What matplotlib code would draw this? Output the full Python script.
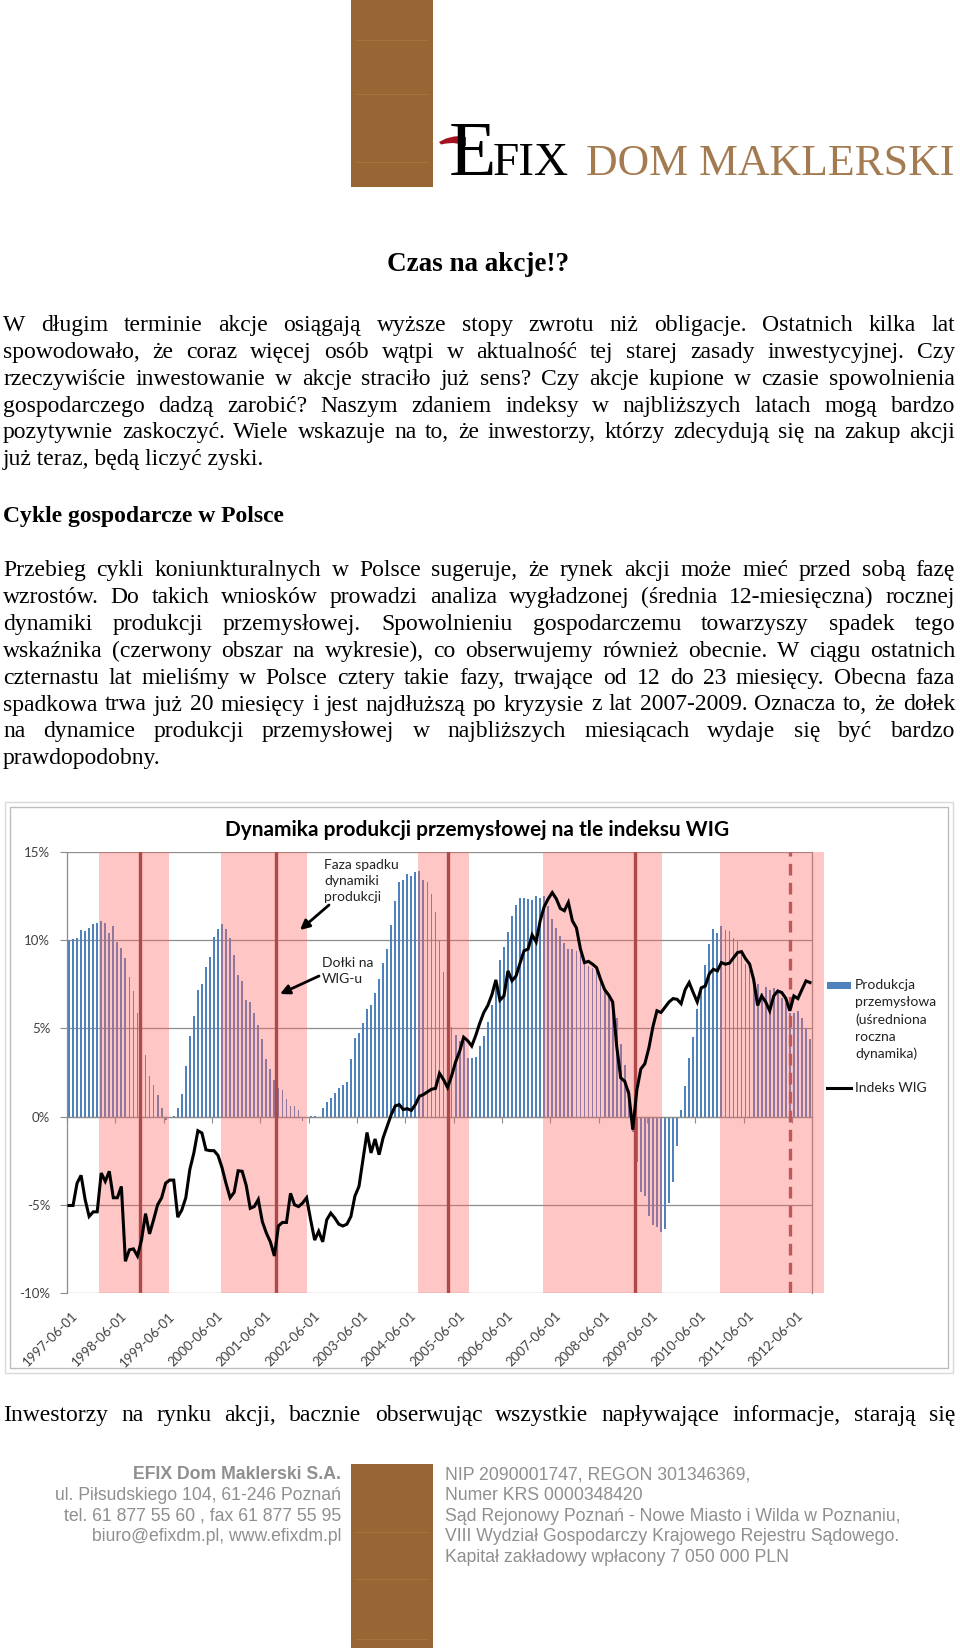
#!/usr/bin/env python3
import numpy as np
import matplotlib
matplotlib.use('Agg')
import matplotlib.pyplot as plt
import matplotlib.patches as mpatches
import matplotlib.transforms as mtransforms

# dane, indeks miesiaca 0 = 1997-06
produkcja = [10.0, 10.05, 10.1, 10.6, 10.5, 10.7, 10.9, 11.0, 11.1, 11.0,
             10.4, 10.8, 9.9, 9.55, 9.0, 7.9, 7.1, 5.9, 4.6, 3.5,
             2.3, 1.8, 1.2, 0.5, -0.2, -0.05, 0.05, 0.5, 1.3, 2.85,
             4.55, 5.7, 7.2, 7.5, 8.5, 9.05, 10.2, 10.65, 10.9, 10.65,
             10.1, 9.15, 8.0, 7.7, 6.6, 6.5, 5.9, 5.2, 4.4, 3.25,
             2.7, 2.1, 1.6, 1.5, 1.0, 0.6, 0.6, 0.35, -0.25, -0.1,
             0.02, 0.05, -0.02, 0.5, 0.8, 1.05, 1.35, 1.6, 1.8, 1.95,
             3.25, 4.45, 4.75, 5.3, 6.1, 6.35, 7.0, 7.8, 8.7, 9.5,
             10.85, 12.2, 13.3, 13.4, 13.75, 13.65, 13.85, 13.9, 13.4, 13.3,
             12.6, 11.6, 10.0, 8.2, 6.6, 5.1, 4.6, 4.3, 4.3, 3.3,
             3.3, 3.4, 4.0, 4.55, 5.35, 6.3, 7.6, 8.9, 9.6, 10.45,
             11.4, 12.0, 12.4, 12.4, 12.35, 12.3, 12.5, 12.4, 12.5, 11.95,
             11.2, 10.7, 10.25, 9.85, 9.5, 9.5, 9.4, 9.2, 8.9, 8.55,
             8.45, 8.35, 8.0, 7.3, 6.85, 6.5, 5.6, 4.1, 2.9, 1.5,
             -0.9, -2.6, -4.25, -4.5, -5.65, -6.15, -6.25, -6.55, -6.4, -4.9,
             -3.7, -1.65, 0.4, 1.75, 3.3, 4.5, 6.1, 7.2, 8.6, 9.8,
             10.65, 10.4, 10.8, 10.6, 10.5, 10.15, 9.95, 9.2, 8.65, 8.3,
             7.7, 7.5, 7.0, 7.35, 7.2, 7.3, 7.0, 6.75, 6.45, 5.9,
             5.9, 6.0, 5.6, 4.95, 4.4]

# indeks WIG w skali wykresu
wig = [-5.04, -5.04, -3.77, -3.33, -4.7, -5.66, -5.4, -5.4, -3.2, -3.67,
       -3.1, -4.6, -4.6, -3.96, -8.2, -7.55, -7.5, -7.9, -7.0, -5.5,
       -6.65, -5.85, -5.0, -4.6, -3.77, -3.6, -3.6, -5.7, -5.3, -4.6,
       -3.0, -2.06, -0.8, -0.93, -1.88, -1.93, -1.93, -2.2, -2.9, -3.8,
       -4.6, -4.3, -3.07, -3.1, -3.9, -5.2, -5.1, -4.7, -5.95, -6.6,
       -7.1, -7.9, -6.2, -6.0, -6.0, -4.35, -5.0, -5.1, -4.9, -4.6,
       -5.85, -7.0, -6.5, -7.1, -5.85, -5.47, -5.75, -6.1, -6.2, -6.1,
       -5.66, -4.5, -3.96, -2.44, -0.9, -2.06, -1.27, -2.16, -1.2, -0.55,
       0.1, 0.6, 0.68, 0.4, 0.45, 0.35, 0.68, 1.15, 1.25, 1.4,
       1.55, 1.6, 2.45, 2.1, 1.65, 2.3, 3.1, 3.7, 4.5, 4.3,
       4.0, 4.6, 5.3, 5.9, 6.3, 6.9, 7.75, 6.6, 6.84, 8.26,
       7.7, 7.97, 8.7, 9.4, 9.5, 10.3, 9.9, 11.1, 11.9, 12.35,
       12.7, 12.35, 11.8, 11.67, 12.14, 11.1, 10.7, 9.5, 8.73, 8.8,
       8.64, 8.45, 7.78, 7.2, 6.9, 6.5, 4.0, 2.2, 2.0, 1.3,
       -0.74, 1.5, 2.7, 3.0, 3.9, 5.1, 6.0, 5.9, 6.2, 6.5,
       6.69, 6.65, 6.4, 7.2, 7.6, 7.03, 6.5, 7.3, 7.4, 8.1,
       8.35, 8.26, 8.73, 8.64, 8.7, 9.0, 9.3, 9.35, 8.95, 8.65,
       7.78, 6.3, 6.84, 6.5, 6.0, 6.84, 7.12, 7.03, 6.7, 6.0,
       6.84, 6.69, 7.2, 7.69, 7.6]

faza_start = [7.95, 38.3, 87.2, 118.3, 162.2]
faza_end = [25.3, 59.6, 99.9, 147.8, 188.0]
dolki_wig = [18.1, 51.9, 94.7, 141.1]
dolek_oczekiwany = 179.6

tick_months = [0, 12, 24, 36, 48, 60, 72, 84, 96, 108, 120, 132, 144, 156, 168, 180]
tick_labels = ['1997-06-01', '1998-06-01', '1999-06-01', '2000-06-01', '2001-06-01',
               '2002-06-01', '2003-06-01', '2004-06-01', '2005-06-01', '2006-06-01',
               '2007-06-01', '2008-06-01', '2009-06-01', '2010-06-01', '2011-06-01',
               '2012-06-01']
y_ticks = [-10, -5, 0, 5, 10, 15]
y_labels = ['-10%', '-5%', '0%', '5%', '10%', '15%']

para1 = ['W długim terminie akcje osiągają wyższe stopy zwrotu niż obligacje. Ostatnich kilka lat',
         'spowodowało, że coraz więcej osób wątpi w aktualność tej starej zasady inwestycyjnej. Czy',
         'rzeczywiście inwestowanie w akcje straciło już sens? Czy akcje kupione w czasie spowolnienia',
         'gospodarczego dadzą zarobić? Naszym zdaniem indeksy w najbliższych latach mogą bardzo',
         'pozytywnie zaskoczyć. Wiele wskazuje na to, że inwestorzy, którzy zdecydują się na zakup akcji',
         'już teraz, będą liczyć zyski.']
para2 = ['Przebieg cykli koniunkturalnych w Polsce sugeruje, że rynek akcji może mieć przed sobą fazę',
         'wzrostów. Do takich wniosków prowadzi analiza wygładzonej (średnia 12-miesięczna) rocznej',
         'dynamiki produkcji przemysłowej. Spowolnieniu gospodarczemu towarzyszy spadek tego',
         'wskaźnika (czerwony obszar na wykresie), co obserwujemy również obecnie. W ciągu ostatnich',
         'czternastu lat mieliśmy w Polsce cztery takie fazy, trwające od 12 do 23 miesięcy. Obecna faza',
         'spadkowa trwa już 20 miesięcy i jest najdłuższą po kryzysie z lat 2007-2009. Oznacza to, że dołek',
         'na dynamice produkcji przemysłowej w najbliższych miesiącach wydaje się być bardzo',
         'prawdopodobny.']
last_line = 'Inwestorzy na rynku akcji, bacznie obserwując wszystkie napływające informacje, starają się'

footer_left = ['EFIX Dom Maklerski S.A.',
               'ul. Piłsudskiego 104, 61-246 Poznań',
               'tel. 61 877 55 60 , fax 61 877 55 95',
               'biuro@efixdm.pl, www.efixdm.pl']
footer_right = ['NIP 2090001747, REGON 301346369,',
                'Numer KRS 0000348420',
                'Sąd Rejonowy Poznań - Nowe Miasto i Wilda w Poznaniu,',
                'VIII Wydział Gospodarczy Krajowego Rejestru Sądowego.',
                'Kapitał zakładowy wpłacony 7 050 000 PLN']

legend_lines = ['Produkcja', 'przemysłowa', '(uśredniona', 'roczna', 'dynamika)']

W, H = 960, 1648
BROWN = '#986535'
GRID = '#8C8C8C'
BLUE = '#4F81BD'
DARKRED = '#B04848'
CF = 'Lato'

fig = plt.figure(figsize=(W / 100, H / 100), dpi=100)
fig.patch.set_facecolor('white')

# ---------------- wykres ----------------
ax = fig.add_axes([67 / W, 1 - 1293 / H, 745 / W, 441 / H])
ax.set_xlim(0, 185)
ax.set_ylim(-10, 15)
x = np.arange(len(produkcja)) + 0.5
ax.bar(x, produkcja, width=0.45, color=BLUE, lw=0, zorder=2)
for s, e in zip(faza_start, faza_end):
    ax.axvspan(s, e, color=(1.0, 0.41, 0.41), alpha=0.38, lw=0, zorder=3, clip_on=False)
for d in dolki_wig:
    ax.axvline(d, color=DARKRED, lw=2.4, zorder=4)
ax.axvline(dolek_oczekiwany, color='#C05858', lw=2.4, ls=(0, (3.5, 2.2)), zorder=4)
ax.plot(x, wig, color='black', lw=2.2, zorder=5, solid_joinstyle='miter')

ax.set_yticks(y_ticks)
ax.set_yticklabels(y_labels, family=CF, fontsize=9.5, color='#404040')
ax.grid(axis='y', color=GRID, lw=0.9, zorder=1)
ax.set_axisbelow(True)
ax.tick_params(axis='y', direction='out', length=5, color=GRID, pad=7)
ax.set_xticks(tick_months)
ax.tick_params(axis='x', direction='out', length=4, color=GRID, labelbottom=False)
for sp in ['left', 'right', 'bottom']:
    ax.spines[sp].set_color(GRID)
    ax.spines[sp].set_linewidth(0.9)
ax.spines['top'].set_visible(False)
ax.spines['bottom'].set_position(('data', 0))
bt = mtransforms.blended_transform_factory(ax.transData, ax.transAxes)
for m, lab in zip(tick_months, tick_labels):
    ax.text(m + 1.2, -0.038, lab, transform=bt, rotation=45, ha='right', va='top',
            rotation_mode='anchor', family=CF, fontsize=9.5, color='#404040')

# ---------------- strona ----------------
page = fig.add_axes([0, 0, 1, 1])
page.set_xlim(0, W)
page.set_ylim(H, 0)
page.axis('off')
renderer = fig.canvas.get_renderer()

# logo
page.add_patch(mpatches.Rectangle((351, 0), 82, 187, color=BROWN, lw=0))
page.add_patch(mpatches.Rectangle((351, 1464), 82, 184, color=BROWN, lw=0))
for yy in [40, 94, 162]:
    page.plot([356, 428], [yy, yy], color='#A5723F', lw=0.8)
for yy in [1532, 1579, 1639]:
    page.plot([356, 428], [yy, yy], color='#A5723F', lw=0.8)
te = page.text(449, 175, 'E', family='Liberation Serif', fontsize=56, color='black',
               va='baseline', ha='left')
we = te.get_window_extent(renderer).width
page.text(449 + we - 4, 175, 'FIX', family='Liberation Serif', fontsize=34, color='black',
          va='baseline', ha='left')
page.fill([439, 446, 454, 461, 466, 466, 460, 453, 446, 441],
          [142, 138.5, 136.5, 136, 137, 146, 144, 143, 143.5, 144.5], color='#A3121E', lw=0)
page.text(954, 175, 'DOM MAKLERSKI', family='Liberation Serif', fontsize=31.5, color='#A47B50',
          va='baseline', ha='right')

# tekst
SERIF = 'Liberation Serif'
BODY = 17


def put_line(txt, y, weight='normal', justify=True, x0=3, x1=955):
    if not justify:
        page.text(x0, y, txt, family=SERIF, fontsize=BODY, fontweight=weight,
                  va='baseline', ha='left', color='black')
        return
    words = txt.split(' ')
    objs = [page.text(0, y, w, family=SERIF, fontsize=BODY, fontweight=weight,
                      va='baseline', ha='left', color='black') for w in words]
    widths = [o.get_window_extent(renderer).width for o in objs]
    gap = (x1 - x0 - sum(widths)) / (len(words) - 1)
    xx = x0
    for o, w in zip(objs, widths):
        o.set_x(xx)
        xx += w + gap


page.text(478, 271, 'Czas na akcje!?', family=SERIF, fontsize=19.5, fontweight='bold',
          ha='center', va='baseline')
y = 331
for i, line in enumerate(para1):
    put_line(line, y, justify=(i < len(para1) - 1))
    y += 26.85
put_line('Cykle gospodarcze w Polsce', 522, weight='bold', justify=False)
y = 576
for i, line in enumerate(para2):
    put_line(line, y, justify=(i < len(para2) - 1))
    y += 26.9
put_line(last_line, 1421)

# ramka obrazka wykresu
page.add_patch(mpatches.Rectangle((5, 802), 948, 571, fill=False, ec='#DADADA', lw=1))
page.add_patch(mpatches.Rectangle((10, 807), 938, 561, fill=False, ec='#BDBDBD', lw=1))
page.text(477, 830, 'Dynamika produkcji przemysłowej na tle indeksu WIG', family=CF,
          fontsize=15, fontweight='bold', ha='center', va='center', color='black')

# adnotacje
for k, s in enumerate(['Faza spadku', 'dynamiki', 'produkcji']):
    page.text(324, 865 + 16 * k, s, family=CF, fontsize=10, ha='left', va='center', color='#222222')
for k, s in enumerate(['Dołki na', 'WIG-u']):
    page.text(322, 963 + 16 * k, s, family=CF, fontsize=10, ha='left', va='center', color='#222222')
arrow = dict(arrowstyle='-|>', color='black', lw=2, mutation_scale=14, shrinkA=0, shrinkB=0)
page.annotate('', xy=(300, 930), xytext=(329, 905), arrowprops=arrow)
page.annotate('', xy=(280, 994), xytext=(319, 976), arrowprops=arrow)

# legenda
page.add_patch(mpatches.Rectangle((827, 982), 24, 7, color=BLUE, lw=0))
for k, s in enumerate(legend_lines):
    page.text(855, 985 + 17.2 * k, s, family=CF, fontsize=10, ha='left', va='center', color='#222222')
page.plot([827, 851], [1088, 1088], color='black', lw=2.2)
page.text(855, 1088, 'Indeks WIG', family=CF, fontsize=10, ha='left', va='center', color='#222222')

# stopka
FG = '#8F8F8F'
for k, s in enumerate(footer_left):
    page.text(341, 1479 + 20.8 * k, s, family='Liberation Sans', fontsize=12.7,
              fontweight='bold' if k == 0 else 'normal', ha='right', va='baseline', color=FG)
for k, s in enumerate(footer_right):
    page.text(445, 1479 + 20.8 * k, s, family='Liberation Sans', fontsize=12.7,
              ha='left', va='baseline', color=FG)

fig.savefig('out.png', dpi=100, facecolor='white')
